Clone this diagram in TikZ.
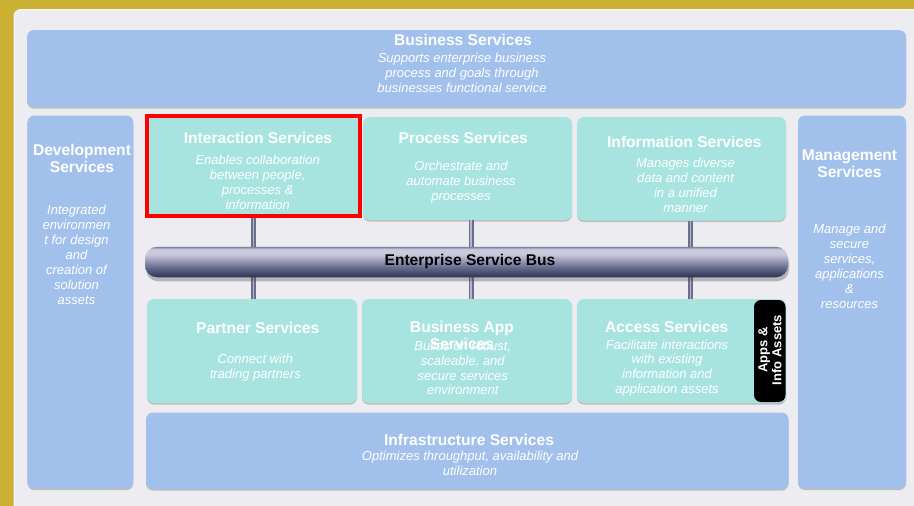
\documentclass[tikz,border=0pt]{standalone}
\usepackage{fontspec}
\setmainfont{Liberation Sans}
\usetikzlibrary{shadows}

\definecolor{gold}{HTML}{CBB033}
\definecolor{panel}{HTML}{EDECF0}
\definecolor{skyblue}{HTML}{A1C1EC}
\definecolor{aqua}{HTML}{A8E4DF}
\definecolor{linkedge}{HTML}{6B6E8A}
\definecolor{linkcore}{HTML}{B4B6CC}
\definecolor{esbbot}{HTML}{2C3252}
\definecolor{esbmid}{HTML}{6A6F92}
\definecolor{esblight}{HTML}{CACADD}
\definecolor{esbtop}{HTML}{7A7E9C}

% cylinder look of the service bus
\pgfdeclareverticalshading{esbshade}{100bp}{color(0bp)=(esbbot); color(25bp)=(esbbot); color(42bp)=(esbmid); color(63bp)=(esblight); color(71bp)=(esblight); color(75bp)=(esbtop); color(100bp)=(esbtop)}

\tikzset{
  tile/.style={rounded corners=7pt, fill=#1, draw=none, inner sep=0pt,
    drop shadow={shadow xshift=0pt, shadow yshift=-1.6pt, opacity=0.35, fill=black!60}},
  ttl/.style={text=white, font=\fontsize{15.6}{17}\selectfont\bfseries, align=center, inner sep=0pt},
  sub/.style={text=white, font=\fontsize{13}{14.9}\selectfont\itshape, align=center, inner sep=0pt},
  link/.style={draw=linkedge, line width=5pt},
  linkin/.style={draw=linkcore, line width=1.6pt},
  redframe/.style={draw=red, line width=4.5pt},
}

\begin{document}
\begin{tikzpicture}[x=1pt,y=-1pt]
  \useasboundingbox (0,0) rectangle (914,506);
  \clip (0,0) rectangle (914,506);

  % backdrop
  \fill[gold] (0,0) rectangle (914,506);
  \filldraw[fill=panel, draw=white!60!panel, line width=1pt, rounded corners=7pt] (14,9.5) rectangle (940,530);

  % service tiles
  \node[tile=skyblue, minimum width=879pt, minimum height=77pt] (bus) at (466.5,68.5) {};
  \node[tile=skyblue, minimum width=106pt, minimum height=373pt] (dev) at (80.4,302) {};
  \node[tile=skyblue, minimum width=108pt, minimum height=373pt] (mgmt) at (852,302) {};

  \node[tile=aqua, sharp corners, minimum width=213pt, minimum height=100pt] (inter) at (253.5,166) {};
  \node[tile=aqua, minimum width=209pt, minimum height=103pt] (proc) at (467.5,168.5) {};
  \node[tile=aqua, minimum width=209pt, minimum height=103.5pt] (info) at (681.5,168.75) {};

  \node[tile=aqua, minimum width=210pt, minimum height=104pt] (partner) at (252,351) {};
  \node[tile=aqua, minimum width=210pt, minimum height=104pt] (bapp) at (467,351) {};
  \node[tile=aqua, minimum width=209pt, minimum height=104pt] (access) at (681.5,351) {};
  \node[fill=black, rounded corners=7pt, minimum width=31.5pt, minimum height=102pt, inner sep=0pt] (tag) at (769.75,351) {};

  \node[tile=skyblue, minimum width=642.5pt, minimum height=76.5pt] (infra) at (467.25,450.75) {};

  % links to the bus
  \foreach \up/\dn/\dx in {inter/partner/0pt, proc/bapp/3.5pt, info/access/9pt}{
    \draw[link]   ([xshift=\dx]\up.south) -- ([xshift=\dx]\up.south |- \dn.north);
    \draw[linkin] ([xshift=\dx]\up.south) -- ([xshift=\dx]\up.south |- \dn.north);
  }

  % enterprise service bus
  \node[rounded corners=12pt, shading=esbshade, minimum width=643pt, minimum height=30.5pt, inner sep=0pt,
        drop shadow={shadow xshift=1pt, shadow yshift=-4pt, opacity=0.35, fill=black!70}] (esb) at (466.5,262) {};
  \node[text=black, font=\fontsize{15.6}{17}\selectfont\bfseries, inner sep=0pt] (esbtext) at (470,261) {Enterprise Service Bus};

  % highlight frame
  \draw[redframe] (inter.north west) rectangle (inter.south east);

  % texts
  \node[ttl] (busT) at (463,40) {Business Services};
  \node[sub] (busS) at (462,73) {Supports enterprise business\\process and goals through\\businesses functional service};

  \node[ttl] (devT) at (82,158) {Development\\Services};
  \node[sub] (devS) at (76.5,255) {Integrated\\environmen\\t for design\\and\\creation of\\solution\\assets};

  \node[ttl] (mgmtT) at (849.5,164) {Management\\Services};
  \node[sub] (mgmtS) at (849.5,266.5) {Manage and\\secure\\services,\\applications\\\&\\resources};

  \node[ttl] (interT) at (258,138) {Interaction Services};
  \node[sub] (interS) at (257.7,182.5) {Enables collaboration\\between people,\\processes \&\\information};

  \node[ttl] (procT) at (463.3,138) {Process Services};
  \node[sub] (procS) at (461,182.5) {Orchestrate and\\automate business\\processes};

  \node[ttl] (infoT) at (684.3,142) {Information Services};
  \node[sub] (infoS) at (685.5,185.5) {Manages diverse\\data and content\\in a unified\\manner};

  \node[ttl] (partnerT) at (257.8,328) {Partner Services};
  \node[sub] (partnerS) at (255.3,368) {Connect with\\trading partners};

  \node[sub] (bappS) at (462.8,368) {Builds on robust,\\scaleable, and\\secure services\\environment};
  \node[ttl] (bappT) at (462,335.5) {Business App\\Services};

  \node[ttl] (accessT) at (666.8,327) {Access Services};
  \node[sub] (accessS) at (667,368) {Facilitate interactions\\with existing\\information and\\application assets};

  \node[text=white, font=\fontsize{13}{14}\selectfont\bfseries, align=center, inner sep=0pt, rotate=90] (tagT) at (770,350) {Apps \&\\Info Assets};

  \node[ttl] (infraT) at (469,440) {Infrastructure Services};
  \node[sub] (infraS) at (470,463) {Optimizes throughput, availability and\\utilization};
\end{tikzpicture}
\end{document}
